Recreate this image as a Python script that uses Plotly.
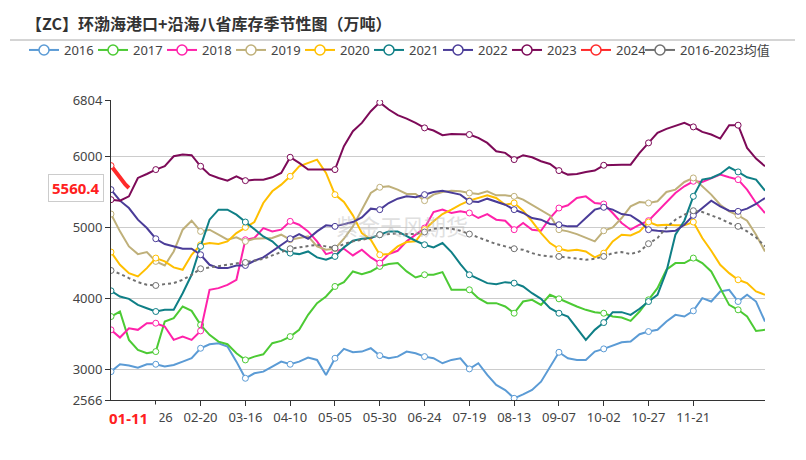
import pandas as pd
import plotly.graph_objects as go

# ---------------- data ----------------
dates = pd.date_range("2024-01-01", periods=74, freq="5D")  # 01-01 .. 12-31

y2016 = [2967, 3071, 3052, 3023, 3071, 3071, 3038, 3061, 3108, 3156, 3297, 3354, 3368, 3321, 3108, 2873, 2943, 2967, 3038, 3108, 3071, 3108, 3165, 3132, 2920, 3156,
         3288, 3240, 3250, 3297, 3193, 3156, 3179, 3250, 3226, 3179, 3156, 3085, 3132, 3156, 3005, 3085, 2920, 2778, 2707, 2590, 2646, 2707, 2825, 3038,
         3240, 3156, 3132, 3132, 3250, 3288, 3335, 3382, 3391, 3495, 3533, 3557, 3674, 3769, 3745, 3825, 4005, 3957, 4099, 4123, 3957, 4052, 3957, 3674]
y2017 = [3745, 3816, 3415, 3274, 3226, 3250, 3674, 3722, 3887, 3825, 3627, 3486, 3391, 3354, 3226, 3132, 3179, 3212, 3368, 3401, 3462, 3557, 3769, 3934, 4028, 4170,
         4231, 4382, 4344, 4382, 4453, 4486, 4500, 4382, 4297, 4335, 4335, 4373, 4123, 4123, 4123, 4005, 3934, 3934, 3887, 3792, 3957, 3981, 3910, 4052,
         3995, 3934, 3887, 3840, 3807, 3792, 3745, 3731, 3684, 3816, 3981, 4146, 4406, 4500, 4500, 4571, 4500, 4382, 4146, 3910, 3840, 3745, 3542, 3557]
y2018 = [3557, 3448, 3580, 3557, 3651, 3651, 3604, 3415, 3462, 3415, 3542, 4123, 4146, 4193, 4264, 4830, 4854, 4995, 4948, 4972, 5090, 5042, 4948, 4807, 4627, 4665,
         4703, 4608, 4689, 4580, 4500, 4627, 4674, 4807, 4901, 4995, 5222, 5255, 5208, 5231, 5208, 5137, 5193, 5113, 5099, 4972, 5066, 4972, 4957, 5137,
         5278, 5316, 5420, 5443, 5349, 5335, 5208, 5066, 4972, 5042, 5099, 5231, 5373, 5490, 5585, 5656, 5646, 5703, 5750, 5712, 5679, 5538, 5349, 5208]
y2019 = [5193, 4948, 4736, 4627, 4656, 4524, 4467, 4665, 4972, 5099, 4948, 4972, 4901, 4830, 4863, 4807, 4844, 4854, 4854, 4901, 4830, 4854, 4877, 4736, 4689, 4703,
         4844, 5019, 5255, 5490, 5571, 5585, 5538, 5476, 5476, 5382, 5467, 5505, 5523, 5514, 5490, 5476, 5514, 5457, 5457, 5443, 5396, 5325, 5255, 5174,
         4972, 4948, 4910, 4863, 4807, 4957, 5005, 5137, 5302, 5363, 5349, 5373, 5505, 5538, 5646, 5703, 5585, 5467, 5325, 5231, 5174, 5099, 4901, 4665]
y2020 = [4656, 4476, 4358, 4311, 4429, 4571, 4524, 4439, 4406, 4618, 4759, 4783, 4769, 4807, 4924, 5005, 5080, 5349, 5514, 5608, 5726, 5868, 5915, 5962, 5774, 5467,
         5363, 5174, 4924, 4830, 4618, 4627, 4736, 4797, 4807, 4972, 5090, 5193, 5255, 5325, 5382, 5420, 5457, 5420, 5325, 5349, 5240, 5090, 4924, 4783,
         4703, 4674, 4689, 4665, 4580, 4641, 4807, 4901, 4891, 4948, 5080, 5033, 5042, 5033, 5033, 5080, 4854, 4674, 4476, 4358, 4264, 4217, 4099, 4052]
y2021 = [4108, 4028, 3995, 3910, 3863, 3816, 3840, 3840, 4075, 4335, 4736, 5113, 5255, 5255, 5184, 5080, 4986, 4877, 4807, 4689, 4641, 4627, 4665, 4580, 4547, 4594,
         4722, 4816, 4844, 4854, 4901, 4948, 4948, 4877, 4816, 4759, 4722, 4783, 4656, 4486, 4335, 4278, 4217, 4203, 4231, 4217, 4170, 4075, 3995, 3863,
         3792, 3745, 3580, 3415, 3557, 3660, 3807, 3807, 3769, 3854, 3957, 4052, 4382, 4901, 5099, 5443, 5679, 5703, 5759, 5854, 5788, 5712, 5679, 5523]
y2022 = [5538, 5382, 5278, 5113, 4995, 4844, 4769, 4736, 4703, 4703, 4618, 4476, 4429, 4429, 4467, 4467, 4533, 4580, 4665, 4759, 4844, 4910, 4844, 4948, 5033, 5019,
         5052, 5080, 5146, 5269, 5255, 5349, 5410, 5443, 5429, 5467, 5505, 5523, 5490, 5467, 5373, 5363, 5410, 5373, 5325, 5255, 5208, 5137, 5113, 5052,
         5042, 5019, 5019, 5137, 5255, 5288, 5255, 5193, 5174, 5090, 4972, 4957, 4948, 4957, 5042, 5174, 5278, 5382, 5302, 5240, 5231, 5269, 5335, 5420]
y2023 = [5396, 5382, 5443, 5703, 5759, 5821, 5868, 6009, 6033, 6024, 5868, 5750, 5703, 5665, 5726, 5665, 5679, 5679, 5712, 5774, 5995, 5915, 5821, 5821, 5821, 5821,
         6151, 6363, 6481, 6646, 6770, 6670, 6590, 6542, 6481, 6410, 6373, 6307, 6325, 6325, 6316, 6269, 6198, 6080, 6057, 5962, 6024, 5995, 5939, 5901,
         5807, 5750, 5759, 5788, 5807, 5882, 5891, 5891, 5891, 6057, 6198, 6340, 6396, 6434, 6481, 6424, 6354, 6316, 6259, 6448, 6448, 6127, 5976, 5868]
avg = [4396, 4349, 4288, 4231, 4193, 4184, 4203, 4217, 4264, 4335, 4420, 4439, 4453, 4476, 4495, 4509, 4533, 4561, 4608, 4656, 4703, 4722, 4736, 4759, 4736, 4712,
       4769, 4807, 4830, 4854, 4901, 4910, 4920, 4910, 4910, 4939, 4986, 4995, 4986, 4957, 4910, 4863, 4816, 4769, 4736, 4703, 4689, 4641, 4608, 4594,
       4594, 4580, 4571, 4547, 4561, 4594, 4641, 4656, 4627, 4665, 4774, 4854, 5005, 5113, 5184, 5240, 5222, 5174, 5127, 5066, 5019, 4948, 4863, 4736]

dates2024 = pd.to_datetime(["2024-01-01", "2024-01-03", "2024-01-05", "2024-01-07", "2024-01-09", "2024-01-11"])
y2024 = [5877, 5810, 5740, 5670, 5610, 5560.4]

series = [
    ("2016", y2016, "#5b9bd5"),
    ("2017", y2017, "#4cca34"),
    ("2018", y2018, "#ff22aa"),
    ("2019", y2019, "#bfb07a"),
    ("2020", y2020, "#ffbf00"),
    ("2021", y2021, "#0f7f86"),
    ("2022", y2022, "#4a3c98"),
    ("2023", y2023, "#7d0a58"),
]
avg_name = "2016-2023均值"
tick_dates = pd.date_range("2024-01-26", periods=13, freq="25D")
y_ticks = [2566, 3000, 4000, 5000, 6000, 6804]

FONT = "Noto Sans, Noto Sans CJK SC, sans-serif"
mark_idx = list(range(0, len(dates), 5))

# page body has an 8px margin: figure is 798x452 placed at (8, 8)
W, H = 798, 452
PL, PT, PW, PH = 103, 92, 654, 300

fig = go.Figure()


def add_series(name, xs, ys, color, width=2, dash="solid", marks=None, legend="legend"):
    fig.add_trace(go.Scatter(x=xs, y=ys, mode="lines", name=name, showlegend=False,
                             line=dict(color=color, width=width, dash=dash),
                             hoverinfo="skip"))
    if marks is not None:
        fig.add_trace(go.Scatter(x=[xs[i] for i in marks], y=[ys[i] for i in marks], mode="markers",
                                 showlegend=False, hoverinfo="skip",
                                 marker=dict(symbol="circle", size=6, color="white",
                                             line=dict(color=color, width=1))))
    fig.add_trace(go.Scatter(x=[None], y=[None], mode="lines+markers", name=name, legend=legend,
                             line=dict(color=color, width=2),
                             marker=dict(symbol="circle", size=10, color="white",
                                         line=dict(color=color, width=1.5))))


for name, ys, color in series:
    add_series(name, dates, ys, color, marks=mark_idx)
add_series("2024", dates2024, y2024, "#ff2a2a", width=4, marks=[0])
add_series(avg_name, dates, avg, "#707070", width=2, dash="dot", marks=mark_idx, legend="legend2")

legend_common = dict(orientation="h", xanchor="left", xref="paper", yref="paper",
                     y=1 + (PT - 42) / PH, yanchor="middle",
                     font=dict(size=13, color="#444"), itemclick=False,
                     bgcolor="rgba(0,0,0,0)")

fig.update_layout(
    width=W, height=H,
    margin=dict(l=PL, r=W - PL - PW, t=PT, b=H - PT - PH),
    paper_bgcolor="white", plot_bgcolor="white",
    font=dict(family=FONT, size=13, color="#444"),
    title=dict(text="<b>【ZC】环渤海港口+沿海八省库存季节性图（万吨）</b>",
               x=18 / W, xanchor="left", xref="container",
               y=1 - 16 / H, yanchor="middle", yref="container",
               font=dict(family="Noto Sans CJK SC", size=16, color="#333")),
    legend=dict(x=(16 - PL) / PW, entrywidth=24, entrywidthmode="pixels", **legend_common),
    legend2=dict(x=(632 - PL) / PW, **legend_common),
    xaxis=dict(type="date", range=[dates[0], dates[-1]], tickvals=tick_dates,
               tickformat="%m-%d", showgrid=False, showline=True, linecolor="#333",
               linewidth=1, ticks="outside", ticklen=5, tickcolor="#333",
               tickfont=dict(size=13, color="#444"), zeroline=False),
    yaxis=dict(range=[2566, 6804], tickvals=y_ticks, ticktext=[str(v) for v in y_ticks],
               showgrid=True, gridcolor="#cccccc", gridwidth=1, showline=True,
               linecolor="#333", linewidth=1, ticks="outside", ticklen=5, tickcolor="#333",
               tickfont=dict(size=13, color="#444"), zeroline=False),
    shapes=[dict(type="line", xref="paper", yref="paper", x0=(2 - PL) / PW, x1=(787 - PL) / PW,
                 y0=1 + (PT - 32) / PH, y1=1 + (PT - 32) / PH, line=dict(color="#aaaaaa", width=1))],
)

fig.add_annotation(text="紫金天风期货", xref="paper", yref="paper", x=0.445, y=0.583,
                   showarrow=False, font=dict(family="Noto Sans CJK SC", size=22, color="#bbbbbb"),
                   opacity=0.45)
fig.add_annotation(text="<b>5560.4</b>", xref="paper", yref="y", x=0, y=y2024[-1],
                   xanchor="right", yanchor="middle", xshift=-7, showarrow=False,
                   font=dict(size=15, color="#ff2020"), bgcolor="white",
                   bordercolor="#cccccc", borderwidth=1, borderpad=3)
fig.add_annotation(text="<b>01-11</b>&nbsp;&nbsp;", xref="x", yref="paper", x=dates2024[-1], y=0,
                   yanchor="top", yshift=-4, xshift=4, showarrow=False,
                   font=dict(size=15, color="#ff2020"), bgcolor="white", borderpad=3)

fig.write_html("out.html")
